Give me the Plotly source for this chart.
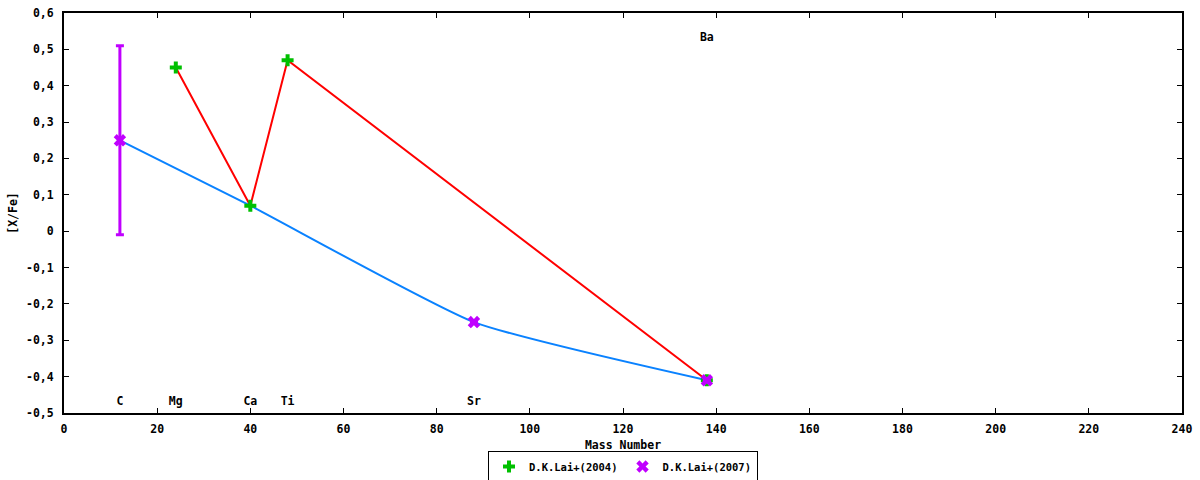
import plotly.graph_objects as go

# elements and their mass numbers
elements = ["C", "Mg", "Ca", "Ti", "Sr", "Ba"]
mass_number = [12, 24, 40, 48, 88, 138]
label_y = [-0.47, -0.47, -0.47, -0.47, -0.47, 0.53]

# D.K.Lai+(2004)
lai2004_mass = [24, 40, 48, 138]
lai2004_xfe = [0.45, 0.07, 0.47, -0.41]

# D.K.Lai+(2007)
lai2007_mass = [12, 88, 138]
lai2007_xfe = [0.25, -0.25, -0.41]
lai2007_err = [0.26, 0, 0]

# lower trend line
trend_mass = [12, 40, 88, 138]
trend_xfe = [0.25, 0.07, -0.25, -0.41]

x_ticks = list(range(0, 241, 20))
y_ticks = [0.6, 0.5, 0.4, 0.3, 0.2, 0.1, 0, -0.1, -0.2, -0.3, -0.4, -0.5]
y_ticktext = ["0,6", "0,5", "0,4", "0,3", "0,2", "0,1", "0",
              "-0,1", "-0,2", "-0,3", "-0,4", "-0,5"]

font = dict(family="DejaVu Sans Mono", size=11.5, color="black", weight="bold")

fig = go.Figure()
fig.add_trace(go.Scatter(
    x=lai2004_mass, y=lai2004_xfe, mode="lines",
    line=dict(color="#ff0000", width=2), showlegend=False, hoverinfo="skip"
))
fig.add_trace(go.Scatter(
    x=trend_mass, y=trend_xfe, mode="lines",
    line=dict(color="#0a82ff", width=2, shape="spline", smoothing=0.5),
    showlegend=False, hoverinfo="skip"
))
fig.add_trace(go.Scatter(
    x=lai2004_mass, y=lai2004_xfe, mode="markers", name="D.K.Lai+(2004)",
    marker=dict(symbol="cross", size=10, color="#00c000")
))
fig.add_trace(go.Scatter(
    x=lai2007_mass, y=lai2007_xfe, mode="markers", name="D.K.Lai+(2007)",
    marker=dict(symbol="x", size=11, color="#c000ff"),
    error_y=dict(type="data", array=lai2007_err, color="#c000ff",
                 thickness=3, width=4)
))
fig.add_trace(go.Scatter(
    x=mass_number, y=label_y, mode="text", text=elements,
    textfont=font, showlegend=False, hoverinfo="skip"
))

fig.update_layout(
    width=1200, height=480,
    margin=dict(l=64, r=18, t=13, b=67, autoexpand=False),
    plot_bgcolor="white", paper_bgcolor="white",
    font=font,
    xaxis=dict(
        title=dict(text="Mass Number", font=font, standoff=6),
        range=[0, 240], tickvals=x_ticks, automargin=False,
        ticks="inside", ticklen=5, tickcolor="black", mirror="ticks",
        ticklabelstandoff=4, ticklabeloverflow="allow",
        showline=True, linecolor="black", linewidth=2,
        showgrid=False, zeroline=False
    ),
    yaxis=dict(
        title=dict(text="[X/Fe]", font=font, standoff=6),
        range=[-0.5, 0.6], tickvals=y_ticks, ticktext=y_ticktext,
        automargin=False, ticklabelstandoff=6, ticklabeloverflow="allow",
        ticks="inside", ticklen=5, tickcolor="black", mirror="ticks",
        showline=True, linecolor="black", linewidth=2,
        showgrid=False, zeroline=False
    ),
    legend=dict(
        orientation="h", x=0.5, xanchor="center", y=-0.095, yanchor="top",
        bordercolor="black", borderwidth=1,
        font=dict(family="DejaVu Sans Mono", size=10.5, color="black", weight="bold"),
        itemwidth=30, tracegroupgap=0
    )
)
# drop the default 8px page margin so the figure fills the window exactly
fig.write_html("out.html", config={"displayModeBar": False},
               post_script="document.body.style.margin = '0';")
